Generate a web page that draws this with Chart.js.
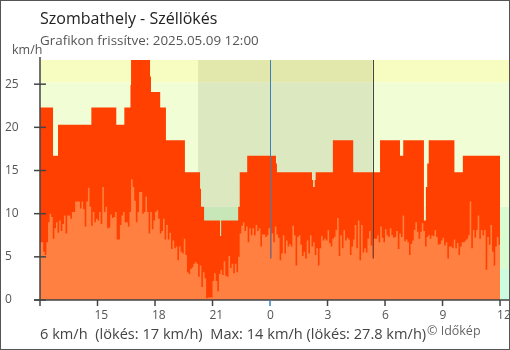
<!DOCTYPE html>
<html lang="hu">
<head>
<meta charset="utf-8">
<title>Szombathely - Széllökés</title>
<script src="https://cdn.jsdelivr.net/npm/chart.js@4.4.1/dist/chart.umd.min.js"></script>
<style>
  html, body { margin: 0; padding: 0; background: #fff; }
  canvas { display: block; }
</style>
</head>
<body>
<canvas id="chart" width="510" height="350"></canvas>
<script>
// Mean wind speed (km/h) in 5-minute steps, 2025.05.08 12:00 – 2025.05.09 12:00 (one row per hour)
const windSpeed = [
  6.7, 6.7, 5.6, 5.2, 6.7, 9.0, 10.0, 9.6, 7.1, 8.3, 9.0, 7.8,
  9.2, 8.0, 8.8, 9.8, 7.7, 9.8, 9.8, 9.4, 10.2, 10.2, 11.4, 11.4,
  11.4, 10.6, 11.4, 10.5, 8.5, 11.4, 13.0, 10.8, 8.6, 10.2, 9.0, 9.4,
  9.2, 10.2, 8.8, 13.1, 10.2, 10.8, 8.3, 8.4, 9.9, 9.5, 9.6, 10.2,
  7.0, 7.0, 8.7, 9.8, 10.2, 9.0, 9.0, 8.5, 10.2, 14.0, 13.1, 11.5,
  9.0, 10.2, 12.5, 12.5, 10.0, 10.2, 12.0, 10.2, 7.7, 10.2, 8.2, 9.2,
  10.2, 10.4, 9.4, 7.7, 8.0, 9.4, 7.0, 8.7, 7.0, 7.8, 5.9, 6.9,
  6.0, 6.2, 4.6, 6.2, 5.6, 5.4, 7.1, 5.2, 3.2, 3.0, 3.6, 3.8,
  4.2, 4.4, 4.2, 2.7, 4.0, 1.5, 3.2, 2.5, 0.2, 0.3, 0.3, 0.3,
  2.2, 3.1, 2.2, 1.0, 3.0, 3.5, 2.9, 4.5, 2.8, 2.7, 5.1, 3.7,
  4.2, 3.1, 4.2, 3.2, 5.0, 7.7, 8.6, 9.0, 8.0, 8.5, 6.7, 8.3,
  7.5, 8.3, 7.5, 8.7, 8.0, 8.3, 6.2, 7.6, 7.6, 7.3, 7.5, 8.3,
  4.8, 7.7, 6.7, 8.5, 7.6, 7.2, 4.6, 5.4, 7.5, 5.4, 6.9, 6.2,
  6.5, 6.2, 8.6, 7.5, 4.0, 7.3, 7.5, 6.4, 5.1, 5.6, 4.8, 6.9,
  5.4, 7.5, 6.2, 6.7, 5.2, 6.0, 4.0, 6.0, 7.4, 6.9, 7.1, 6.9,
  8.1, 6.6, 6.2, 7.1, 7.3, 8.1, 9.5, 5.1, 7.5, 6.0, 8.1, 6.9,
  7.2, 7.0, 5.2, 6.2, 7.0, 8.7, 6.0, 9.2, 4.6, 8.7, 5.5, 6.0,
  5.5, 7.1, 8.0, 6.3, 4.8, 7.1, 7.1, 7.5, 6.7, 8.5, 7.2, 6.7,
  8.2, 7.5, 7.3, 8.3, 7.5, 7.2, 7.3, 8.0, 5.9, 7.7, 7.3, 9.8,
  6.8, 7.0, 6.7, 5.2, 6.5, 6.9, 8.1, 9.0, 7.9, 7.1, 7.9, 8.9,
  8.0, 6.2, 7.3, 7.5, 7.1, 7.5, 7.4, 8.1, 7.3, 6.4, 6.5, 6.9,
  7.2, 6.3, 6.7, 4.8, 6.2, 6.2, 6.0, 7.0, 6.0, 6.6, 5.2, 6.2,
  6.7, 6.7, 6.9, 7.1, 7.5, 11.4, 6.0, 8.1, 7.2, 8.1, 9.8, 7.1,
  8.1, 7.5, 8.1, 3.5, 7.3, 6.4, 8.7, 5.6, 4.0, 6.2, 7.3, 6.4
];
const stepHours = 5 / 60;

// Wind gusts: each step starts at gustStart (hours after 12:00) and holds gustValue (km/h)
const gustStart = [0, 0.68, 0.94, 2.68, 3.98, 4.40, 4.72, 4.75, 5.74, 5.79,
                   6.27, 6.57, 7.56, 8.35, 8.40, 8.56, 9.39, 9.45, 10.34, 10.42,
                   10.81, 12.31, 12.36, 14.19, 14.25, 14.33, 14.38, 15.28, 16.34, 17.74,
                   18.78, 18.95, 20.03, 20.13, 20.20, 20.28, 21.62, 22.06];
const gustValue = [22.3, 16.7, 20.3, 22.3, 20.3, 22.3, 24.9, 27.8, 25.9, 24.1,
                   22.3, 18.5, 14.8, 12.9, 10.8, 9.2, 7.4, 9.2, 10.8, 14.8,
                   16.7, 15.8, 14.8, 13.9, 13.1, 13.9, 14.8, 18.5, 14.8, 18.5,
                   16.7, 18.5, 9.2, 13.1, 15.8, 18.5, 14.8, 16.7];
const dataEnd = 24;

// Wind-speed bands behind the chart (km/h, lower limits)
const bandLimits = [0, 3.6, 10.8, 25.2];
// Night: sunset and sunrise, hours after 12:00
const night = [8.25, 17.35];
const midnight = 12;

// Axis ticks
const xTickHours  = [0, 3, 6, 9, 12, 15, 18, 21, 24];
const xTickLabels = ['', '15', '18', '21', '0', '3', '6', '9', '12'];
const yTickValues = [0, 5, 10, 15, 20, 25];

const FONT = "'Open Sans', 'Noto Sans', sans-serif";
const BAND_COLORS = ['#cbfce0', '#d8fccf', '#f0fdd5', '#f7fcc0'];
const AXIS_COLOR = '#444';
const MIDNIGHT_COLOR = '#3a82bd';

// Step tables for the two filled series
const windPoints = windSpeed.map((v, i) => ({ x: i * stepHours, y: v }));
windPoints.push({ x: dataEnd, y: windSpeed[windSpeed.length - 1] });
const gustPoints = gustStart.map((h, i) => ({ x: h, y: gustValue[i] }));
gustPoints.push({ x: dataEnd, y: gustValue[gustValue.length - 1] });

const lastWind = Math.round(windSpeed[windSpeed.length - 1]);
const lastGust = Math.round(gustValue[gustValue.length - 1]);
const maxWind = Math.round(Math.max(...windSpeed));
const maxGust = Math.max(...gustValue);

const decor = {
  id: 'decor',
  beforeDatasetsDraw(chart) {
    const { ctx, chartArea: a, scales: { x, y } } = chart;
    ctx.save();
    ctx.beginPath();
    ctx.rect(a.left, a.top, a.right - a.left, a.bottom - a.top);
    ctx.clip();
    const limits = bandLimits.concat([y.max]);
    for (let i = 0; i < bandLimits.length; i++) {
      const y0 = y.getPixelForValue(limits[i]);
      const y1 = y.getPixelForValue(limits[i + 1]);
      ctx.fillStyle = BAND_COLORS[i];
      ctx.fillRect(a.left, y1, a.right - a.left, y0 - y1);
    }
    const n0 = x.getPixelForValue(night[0]);
    const n1 = x.getPixelForValue(night[1]);
    ctx.fillStyle = 'rgba(50, 50, 0, 0.1)';
    ctx.fillRect(n0, a.top, n1 - n0, a.bottom - a.top);
    ctx.restore();
  },
  afterDatasetDraw(chart, args) {
    if (args.index !== 1) return;
    // midnight and sunrise markers, under the mean-wind fill
    const { ctx, chartArea: a, scales: { x } } = chart;
    ctx.save();
    ctx.lineWidth = 1;
    const mx = Math.round(x.getPixelForValue(midnight)) + 0.5;
    ctx.strokeStyle = MIDNIGHT_COLOR;
    ctx.beginPath(); ctx.moveTo(mx, a.top); ctx.lineTo(mx, a.bottom); ctx.stroke();
    const sx = Math.round(x.getPixelForValue(night[1])) + 0.5;
    ctx.strokeStyle = '#444';
    ctx.beginPath(); ctx.moveTo(sx, a.top); ctx.lineTo(sx, a.bottom); ctx.stroke();
    ctx.restore();
  },
  afterDraw(chart) {
    const { ctx, chartArea: a, scales: { x, y } } = chart;
    ctx.save();
    // axes
    ctx.lineWidth = 1.5;
    ctx.strokeStyle = AXIS_COLOR;
    ctx.beginPath();
    ctx.moveTo(a.left, a.top - 3); ctx.lineTo(a.left, a.bottom);
    ctx.moveTo(a.left - 6, a.bottom); ctx.lineTo(a.right, a.bottom);
    ctx.stroke();
    yTickValues.forEach(v => {
      const py = y.getPixelForValue(v);
      ctx.beginPath(); ctx.moveTo(a.left - 6, py); ctx.lineTo(a.left + 6, py); ctx.stroke();
    });
    xTickHours.forEach(h => {
      const px = x.getPixelForValue(h);
      ctx.strokeStyle = h === midnight ? MIDNIGHT_COLOR : AXIS_COLOR;
      ctx.beginPath(); ctx.moveTo(px, a.bottom); ctx.lineTo(px, a.bottom + 6); ctx.stroke();
    });
    // texts
    ctx.textBaseline = 'alphabetic';
    ctx.textAlign = 'left';
    ctx.fillStyle = '#222';
    ctx.font = '16px ' + FONT;
    ctx.fillText('Szombathely - Széllökés', 40, 24);
    ctx.fillStyle = '#555';
    ctx.font = '13.4px ' + FONT;
    ctx.fillText('Grafikon frissítve: 2025.05.09 12:00', 40, 45);
    ctx.font = '12.5px ' + FONT;
    ctx.fillText('km/h', 12, 54);
    ctx.fillStyle = '#444';
    ctx.font = '14.6px ' + FONT;
    ctx.fillText(lastWind + ' km/h  (lökés: ' + lastGust + ' km/h)  Max: ' + maxWind +
      ' km/h (lökés: ' + maxGust + ' km/h)', 40, 339);
    ctx.fillStyle = '#666';
    ctx.font = '12.5px ' + FONT;
    ctx.fillText('© Időkép', 427, 335);
    // frame
    ctx.lineWidth = 1;
    ctx.strokeStyle = '#555';
    ctx.strokeRect(0.5, 0.5, chart.width - 1, chart.height - 1);
    ctx.restore();
  }
};

Chart.defaults.font.family = FONT;

new Chart(document.getElementById('chart'), {
  type: 'line',
  data: {
    datasets: [
      {
        label: 'Szél',
        data: windPoints,
        stepped: true,
        fill: 'origin',
        backgroundColor: '#ff8040',
        borderColor: 'rgba(0,0,0,0)',
        borderWidth: 0,
        pointRadius: 0
      },
      {
        label: 'Széllökés',
        data: gustPoints,
        stepped: true,
        fill: 'origin',
        backgroundColor: '#ff4000',
        borderColor: 'rgba(0,0,0,0)',
        borderWidth: 0,
        pointRadius: 0
      }
    ]
  },
  options: {
    responsive: false,
    animation: false,
    events: [],
    layout: { padding: { left: 5, top: 60, right: 0, bottom: 0 } },
    plugins: { legend: { display: false }, tooltip: { enabled: false } },
    scales: {
      x: {
        type: 'linear',
        min: 0,
        max: 24.52,
        grid: { display: false, drawTicks: false },
        border: { display: false },
        afterBuildTicks(s) { s.ticks = xTickHours.map(v => ({ value: v })); },
        afterFit(s) { s.height = 50; s.paddingLeft = 0; s.paddingRight = 0; },
        ticks: {
          autoSkip: false,
          maxRotation: 0,
          align: 'start',
          labelOffset: -3,
          padding: 8,
          color: '#555',
          font: { size: 12 },
          callback: (v) => xTickLabels[xTickHours.indexOf(v)]
        }
      },
      y: {
        min: 0,
        max: maxGust,
        grid: { display: false, drawTicks: false },
        border: { display: false },
        afterBuildTicks(s) { s.ticks = yTickValues.map(v => ({ value: v })); },
        afterFit(s) { s.width = 35; s.paddingTop = 0; s.paddingBottom = 0; },
        ticks: {
          crossAlign: 'far',
          padding: 0,
          color: '#555',
          font: { size: 12 },
          callback: (v) => String(v)
        }
      }
    }
  },
  plugins: [decor]
});
</script>
</body>
</html>
